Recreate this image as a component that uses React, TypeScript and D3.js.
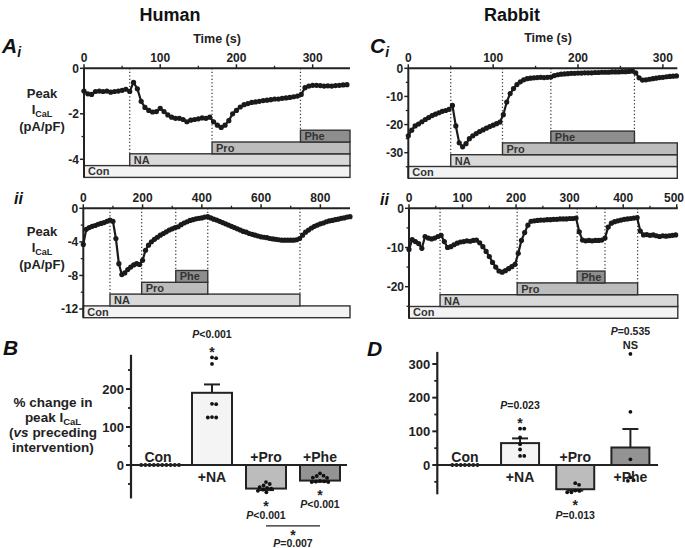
import React from 'react';
import * as d3 from 'd3';

const FONT = '"Liberation Sans", Arial, Helvetica, sans-serif';
const INK = '#222';

// ---- Traces: peak ICaL (pA/pF) sampled at fixed intervals (s) ----
const humanI_step = 5;
const humanI_duration = 349;
const humanI_values = [
  -1.0, -1.12, -1.15, -1.02, -1.0, -1.02, -1.0, -1.05, -1.02, -1.0, -0.97, -0.92, -1.02,
  -0.62, -0.9, -1.45, -1.72, -1.85, -1.92, -1.9, -1.76, -1.9, -2.05, -2.15, -2.2, -2.2,
  -2.25, -2.35, -2.28, -2.25, -2.22, -2.18, -2.2, -2.15, -2.35, -2.5, -2.6, -2.5, -2.3,
  -2.0, -1.85, -1.7, -1.6, -1.55, -1.5, -1.48, -1.45, -1.42, -1.4, -1.38, -1.35, -1.35,
  -1.32, -1.3, -1.28, -1.25, -1.22, -1.15, -0.85, -0.78, -0.75, -0.75, -0.76, -0.78,
  -0.77, -0.78, -0.76, -0.75, -0.73, -0.72,
];

const humanII_step = 10;
const humanII_duration = 900;
const humanII_values = [
  -4.3, -2.5, -2.3, -2.15, -2.05, -1.9, -1.8, -1.7, -1.55, -1.4, -1.55, -3.6, -6.6, -7.9,
  -7.7, -7.3, -7.0, -6.75, -6.6, -6.7, -6.2, -5.0, -4.4, -4.0, -3.7, -3.45, -3.2, -3.0,
  -2.8, -2.6, -2.45, -2.3, -2.2, -1.95, -1.75, -1.6, -1.45, -1.35, -1.25, -1.2, -1.15,
  -1.05, -1.0, -1.15, -1.3, -1.4, -1.55, -1.7, -1.85, -2.0, -2.15, -2.3, -2.45, -2.6,
  -2.75, -2.85, -3.0, -3.1, -3.2, -3.3, -3.4, -3.45, -3.5, -3.6, -3.65, -3.7, -3.75,
  -3.8, -3.8, -3.8, -3.8, -3.8, -3.75, -3.6, -3.2, -2.85, -2.6, -2.35, -2.15, -2.0,
  -1.85, -1.75, -1.6, -1.5, -1.45, -1.35, -1.3, -1.2, -1.15, -1.05, -1.0,
];

const rabbitI_step = 4;
const rabbitI_duration = 317;
const rabbitI_values = [
  -24.0, -22.0, -20.5, -19.8, -19.0, -18.2, -17.5, -16.8, -16.3, -15.8, -15.3, -15.0,
  -14.6, -13.2, -20.5, -26.5, -27.9, -26.8, -25.0, -24.0, -23.2, -22.5, -21.9, -21.3,
  -20.7, -20.2, -19.7, -19.1, -16.5, -12.0, -9.0, -7.2, -5.8, -4.8, -4.1, -3.7, -3.5,
  -3.4, -3.3, -3.2, -3.3, -3.2, -3.1, -2.6, -2.3, -2.1, -2.0, -1.9, -1.8, -1.8, -1.7,
  -1.7, -1.6, -1.6, -1.6, -1.5, -1.5, -1.4, -1.4, -1.4, -1.3, -1.3, -1.3, -1.2, -1.2,
  -1.1, -1.0, -1.6, -3.4, -4.2, -4.1, -3.9, -3.7, -3.5, -3.3, -3.2, -3.0, -2.9, -2.8, -2.7,
];

const rabbitII_step = 6;
const rabbitII_duration = 502;
const rabbitII_values = [
  -10.5, -8.0, -8.5, -9.0, -10.2, -7.2, -7.6, -7.8, -7.6, -7.2, -6.9, -8.5, -10.0, -9.8,
  -9.3, -8.9, -8.6, -8.5, -8.3, -8.4, -8.2, -8.1, -8.8, -9.8, -11.0, -12.3, -13.8, -15.0,
  -16.0, -16.3, -15.9, -15.4, -14.9, -14.3, -11.5, -8.2, -6.2, -4.3, -3.3, -3.2, -3.1,
  -3.0, -3.0, -2.9, -2.9, -2.8, -2.8, -2.7, -2.7, -2.7, -2.6, -2.6, -2.5, -6.0, -8.1,
  -8.3, -8.2, -8.3, -8.2, -8.2, -8.1, -7.6, -4.8, -3.8, -3.4, -3.2, -3.0, -2.8, -2.7,
  -2.6, -2.5, -2.4, -5.8, -6.8, -6.7, -6.9, -6.8, -7.0, -7.2, -7.0, -7.1, -7.0, -6.9, -6.8,
];

// drug application periods [start, end] in s, same order as `drugs`
const drugs = ['Con', 'NA', 'Pro', 'Phe'];
const humanI_periods = [[0, 349], [60, 349], [168, 349], [284, 349]];
const humanII_periods = [[0, 900], [90, 731], [197, 420], [312, 420]];
const rabbitI_periods = [[0, 317], [50, 317], [111, 317], [168, 266.5]];
const rabbitII_periods = [[0, 502], [58, 502], [202, 427], [314, 366]];

const humanI_xTicks = [0, 100, 200, 300];
const humanI_xMinor = [50, 150, 250];
const humanI_yTicks = [0, -2, -4];
const humanI_yMinor = [-1, -3];
const humanII_xTicks = [0, 200, 400, 600, 800];
const humanII_xMinor = [100, 300, 500, 700];
const humanII_yTicks = [0, -4, -8, -12];
const humanII_yMinor = [-2, -6, -10];
const rabbitI_xTicks = [0, 100, 200, 300];
const rabbitI_xMinor = [50, 150, 250];
const rabbitI_yTicks = [0, -10, -20, -30];
const rabbitI_yMinor = [-5, -15, -25, -35];
const rabbitII_xTicks = [0, 100, 200, 300, 400, 500];
const rabbitII_xMinor = [50, 150, 250, 350, 450];
const rabbitII_yTicks = [0, -10, -20];
const rabbitII_yMinor = [-5, -15, -25];

// ---- Summary: % change in peak ICaL vs preceding intervention ----
const groups = ['Con', '+NA', '+Pro', '+Phe'];
const humanMean = [0, 190, -62, -41];
const humanSem = [0, 22, 4, 3];
const humanPoints = [
  [0, 0, 0, 0, 0, 0, 0, 0, 0, 0],
  [283, 281, 266, 161, 160, 126, 125, 125],
  [-45, -50, -54, -58, -60, -62, -65, -68, -72],
  [-22, -28, -29, -33, -34, -42, -44, -45, -45, -43],
];
const humanNotes = [[], ['P<0.001', '*'], ['*', 'P<0.001'], ['*', 'P<0.001']];
const humanComparison = { from: '+Pro', to: '+Phe', labels: ['*', 'P=0.007'] };
const humanYTicks = [0, 100, 200];
const humanYMinor = [-50, 50, 150, 250];

const rabbitMean = [0, 65, -72, 52];
const rabbitSem = [0, 14, 4, 55];
const rabbitPoints = [
  [0, 0, 0, 0, 0, 0, 0],
  [108, 108, 82, 62, 46, 27, 27],
  [-59, -54, -77, -81, -81, -76],
  [330, 158, 17, -37, -45, -47],
];
const rabbitNotes = [[], ['P=0.023', '*'], ['*', 'P=0.013'], ['P=0.535', 'NS']];
const rabbitYTicks = [0, 100, 200, 300];
const rabbitYMinor = [-50, 50, 150, 250];

// ---- styling ----
const drugFill = { Con: '#f3f3f3', NA: '#d9d9d9', Pro: '#bcbcbc', Phe: '#8e8e8e' };
const groupFill = { Con: '#ffffff', '+NA': '#f4f4f4', '+Pro': '#bcbcbc', '+Phe': '#939393' };
const ROW_H = 11.8;
const PAGE_W = 685;

type TraceLayout = {
  xRange: [number, number];
  yDomain: [number, number];
  yRange: [number, number];
  bottom: number;
};

function TracePanel(props: {
  layout: TraceLayout;
  step: number;
  duration: number;
  values: number[];
  periods: number[][];
  xTicks: number[];
  xMinor: number[];
  yTicks: number[];
  yMinor: number[];
}) {
  const { layout, step, duration, values, periods } = props;
  const x = d3.scaleLinear().domain([0, duration]).range(layout.xRange);
  const y = d3.scaleLinear().domain(layout.yDomain).range(layout.yRange);
  const [x0, x1] = layout.xRange;
  const yAx = y(0);
  const yBot = layout.bottom;
  const rowTop = (i: number) => yBot - (i + 1) * ROW_H;

  const pts: [number, number][] = values.map((v, i) => [x(i * step), y(v)]);
  const path = d3.line()(pts) || '';

  // dotted event markers at every start / end of an application
  const events = new Map<number, number>();
  periods.forEach(([s, e], i) => {
    [s, e].forEach((t) => {
      if (t > 0 && t < duration) {
        const top = rowTop(i);
        if (!events.has(t) || (events.get(t) as number) > top) events.set(t, top);
      }
    });
  });

  return (
    <g>
      {periods.map(([s, e], i) => (
        <g key={drugs[i]}>
          <rect
            x={x(s)}
            y={rowTop(i)}
            width={x(e) - x(s)}
            height={ROW_H}
            fill={drugFill[drugs[i]]}
            stroke="#333"
            strokeWidth={1.4}
          />
          <text
            x={x(s) + 4}
            y={rowTop(i) + ROW_H - 2}
            fontSize={11}
            fontWeight="bold"
            fill="#333"
          >
            {drugs[i]}
          </text>
        </g>
      ))}
      {[...events.entries()].map(([t, top]) => (
        <line
          key={t}
          x1={x(t)}
          x2={x(t)}
          y1={yAx}
          y2={top}
          stroke="#333"
          strokeWidth={1.2}
          strokeDasharray="1.3 2.2"
        />
      ))}
      {/* axes */}
      <line x1={x0} x2={x1} y1={yAx} y2={yAx} stroke={INK} strokeWidth={2} />
      <line x1={x0} x2={x0} y1={yAx} y2={yBot} stroke={INK} strokeWidth={2} />
      {props.xTicks.map((t) => {
        const px = x(t);
        const nearEdge = px + 11 > PAGE_W;
        return (
          <g key={'xt' + t}>
            <line x1={px} x2={px} y1={yAx} y2={yAx - 4} stroke={INK} strokeWidth={1.5} />
            <text
              x={nearEdge ? PAGE_W - 1 : px}
              y={yAx - 6}
              textAnchor={nearEdge ? 'end' : 'middle'}
              fontSize={12}
              fontWeight="bold"
              fill={INK}
            >
              {String(t)}
            </text>
          </g>
        );
      })}
      {props.xMinor.map((t) => (
        <line key={'xm' + t} x1={x(t)} x2={x(t)} y1={yAx} y2={yAx - 2.5} stroke={INK} strokeWidth={1.3} />
      ))}
      {props.yTicks.map((t) => (
        <g key={'yt' + t}>
          <line x1={x0} x2={x0 - 4} y1={y(t)} y2={y(t)} stroke={INK} strokeWidth={1.5} />
          <text x={x0 - 5} y={y(t) + 4.3} textAnchor="end" fontSize={12} fontWeight="bold" fill={INK}>
            {String(t)}
          </text>
        </g>
      ))}
      {props.yMinor.map((t) =>
        y(t) < yBot ? (
          <line key={'ym' + t} x1={x0} x2={x0 - 2.5} y1={y(t)} y2={y(t)} stroke={INK} strokeWidth={1.3} />
        ) : null
      )}
      {/* trace */}
      <path d={path} fill="none" stroke="#1a1a1a" strokeWidth={2.2} />
      {pts.map(([px, py], i) => (
        <circle key={i} cx={px} cy={py} r={2.6} fill="#1a1a1a" />
      ))}
    </g>
  );
}

function swarm(vals: number[], y: (v: number) => number, D: number) {
  const order = vals.map((v) => ({ v, py: y(v) })).sort((a, b) => a.py - b.py);
  const placed: { v: number; py: number; dx: number }[] = [];
  for (const p of order) {
    const cands = [0];
    for (const q of placed) {
      const dy = Math.abs(q.py - p.py);
      if (dy < D) {
        const dx = Math.sqrt(D * D - dy * dy);
        cands.push(q.dx + dx, q.dx - dx);
      }
    }
    cands.sort((a, b) => Math.abs(a) - Math.abs(b));
    const ok = cands.find((c) => placed.every((q) => Math.hypot(q.dx - c, q.py - p.py) >= D - 1e-6));
    placed.push({ ...p, dx: ok ?? 0 });
  }
  return placed;
}

function NoteText({ label, cx, cy }: { label: string; cx: number; cy: number }) {
  if (label === '*') {
    return (
      <text x={cx} y={cy + 8.2} textAnchor="middle" fontSize={14} fontWeight="bold" fill={INK}>
        *
      </text>
    );
  }
  if (label.startsWith('P')) {
    return (
      <text x={cx} y={cy + 3.8} textAnchor="middle" fontSize={10.5} fontWeight="bold" fill={INK}>
        <tspan fontStyle="italic">P</tspan>
        {label.slice(1)}
      </text>
    );
  }
  return (
    <text x={cx} y={cy + 4} textAnchor="middle" fontSize={11} fontWeight="bold" fill={INK}>
      {label}
    </text>
  );
}

type BarLayout = {
  axisX: number;
  xEnd: number;
  yDomain: [number, number];
  yRange: [number, number];
  top: number;
  bottom: number;
  barW: number;
};

function BarPanel(props: {
  layout: BarLayout;
  means: number[];
  sems: number[];
  points: number[][];
  notes: string[][];
  yTicks: number[];
  yMinor: number[];
  comparison?: { from: string; to: string; labels: string[] };
}) {
  const { layout: L, means, sems, points, notes } = props;
  const y = d3.scaleLinear().domain(L.yDomain).range(L.yRange);
  const cx = d3.scalePoint<string>().domain(groups).range([L.axisX, L.xEnd]).padding(0.5);
  const y0 = y(0);
  const noteBottoms: Record<string, number> = {};

  return (
    <g>
      {groups.map((g, i) => {
        const c = cx(g) as number;
        const m = means[i];
        const ym = y(m);
        const dots = swarm(points[i], y, 4.2);
        const errEnd = m >= 0 ? y(m + sems[i]) : y(m - sems[i]);
        const labelAbove = m <= 0;
        // annotation anchor
        const lines = notes[i];
        const els: React.ReactNode[] = [];
        if (lines.length) {
          if (m > 0) {
            const ref = Math.min(errEnd, ...dots.map((d) => d.py));
            lines
              .slice()
              .reverse()
              .forEach((l, k) => els.push(<NoteText key={k} label={l} cx={c} cy={ref - 9 - k * 14} />));
          } else {
            const ref = Math.max(...dots.map((d) => d.py));
            lines.forEach((l, k) => els.push(<NoteText key={k} label={l} cx={c} cy={ref + 10 + k * 12.5} />));
            noteBottoms[g] = ref + 10 + (lines.length - 1) * 12.5;
          }
        }
        return (
          <g key={g}>
            {m !== 0 && (
              <rect
                x={c - L.barW / 2}
                y={Math.min(ym, y0)}
                width={L.barW}
                height={Math.abs(y0 - ym)}
                fill={groupFill[g]}
                stroke={INK}
                strokeWidth={2}
              />
            )}
            {sems[i] > 0 && (
              <g stroke={INK} strokeWidth={2}>
                <line x1={c} x2={c} y1={ym} y2={errEnd} />
                <line x1={c - 8} x2={c + 8} y1={errEnd} y2={errEnd} />
              </g>
            )}
            {dots.map((d, k) => (
              <circle key={k} cx={c + d.dx} cy={d.py} r={1.9} fill="#111" />
            ))}
            <text
              x={c}
              y={labelAbove ? y0 - 3.5 : y0 + 17}
              textAnchor="middle"
              fontSize={14}
              fontWeight="bold"
              fill={INK}
            >
              {g}
            </text>
            {els}
          </g>
        );
      })}
      {props.comparison && (() => {
        const cmp = props.comparison;
        const a = cx(cmp.from) as number;
        const b = cx(cmp.to) as number;
        const ly = Math.max(noteBottoms[cmp.from] ?? y0, noteBottoms[cmp.to] ?? y0) + 11;
        return (
          <g>
            <line x1={a} x2={b} y1={ly} y2={ly} stroke={INK} strokeWidth={1.3} />
            <NoteText label={cmp.labels[0]} cx={(a + b) / 2} cy={ly + 6} />
            <NoteText label={cmp.labels[1]} cx={(a + b) / 2} cy={ly + 17.5} />
          </g>
        );
      })()}
      {/* axes */}
      <line x1={L.axisX} x2={L.xEnd} y1={y0} y2={y0} stroke={INK} strokeWidth={2.2} />
      <line x1={L.axisX} x2={L.axisX} y1={y(L.top)} y2={y(L.bottom)} stroke={INK} strokeWidth={2.2} />
      {props.yTicks.map((t) => (
        <g key={'t' + t}>
          <line x1={L.axisX} x2={L.axisX - 5} y1={y(t)} y2={y(t)} stroke={INK} strokeWidth={2} />
          <text x={L.axisX - 7} y={y(t) + 4.6} textAnchor="end" fontSize={13} fontWeight="bold" fill={INK}>
            {String(t)}
          </text>
        </g>
      ))}
      {props.yMinor.map((t) => (
        <line key={'m' + t} x1={L.axisX} x2={L.axisX - 3} y1={y(t)} y2={y(t)} stroke={INK} strokeWidth={1.8} />
      ))}
    </g>
  );
}

function TraceYLabel({ cx, y }: { cx: number; y: number }) {
  return (
    <g fontSize={13} fontWeight="bold" fill={INK} textAnchor="middle">
      <text x={cx} y={y}>Peak</text>
      <text x={cx} y={y + 16}>
        I<tspan fontSize={9} dy={3}>CaL</tspan>
      </text>
      <text x={cx} y={y + 33}>(pA/pF)</text>
    </g>
  );
}

function PanelLetter({ x, y, letter, sub }: { x: number; y: number; letter: string; sub?: string }) {
  return (
    <text x={x} y={y} fontSize={21} fontWeight="bold" fontStyle="italic" fill="#111">
      {letter}
      {sub && (
        <tspan fontSize={14} dy={4}>
          {sub}
        </tspan>
      )}
    </text>
  );
}

export default function App() {
  const layouts: Record<string, TraceLayout> = {
    humanI: { xRange: [84, 350], yDomain: [0, -4], yRange: [68.3, 159.3], bottom: 177.4 },
    humanII: { xRange: [83.3, 350], yDomain: [0, -12], yRange: [208.3, 309], bottom: 317.7 },
    rabbitI: { xRange: [408.3, 677.3], yDomain: [0, -30], yRange: [68.3, 152.7], bottom: 178.3 },
    rabbitII: { xRange: [409, 677.8], yDomain: [0, -20], yRange: [208.3, 286.7], bottom: 318.3 },
  };
  const humanBar: BarLayout = {
    axisX: 131, xEnd: 347, yDomain: [0, 200], yRange: [465, 389], top: 290, bottom: -88, barW: 40,
  };
  const rabbitBar: BarLayout = {
    axisX: 437.3, xEnd: 658, yDomain: [0, 300], yRange: [465, 364], top: 336, bottom: -87, barW: 38,
  };

  return (
    <svg
      width={685}
      height={548}
      style={{ position: 'absolute', left: 0, top: 0, background: '#fff' }}
      fontFamily={FONT}
    >
      <rect width={685} height={548} fill="#fff" />
      <text x={170} y={20.5} textAnchor="middle" fontSize={18} fontWeight="bold" fill="#111">Human</text>
      <text x={512} y={20.5} textAnchor="middle" fontSize={18} fontWeight="bold" fill="#111">Rabbit</text>
      <text x={217} y={43} textAnchor="middle" fontSize={12.5} fontWeight="bold" fill={INK}>Time (s)</text>
      <text x={548} y={42} textAnchor="middle" fontSize={12.5} fontWeight="bold" fill={INK}>Time (s)</text>

      <PanelLetter x={2} y={53} letter="A" sub="i" />
      <PanelLetter x={370} y={53} letter="C" sub="i" />
      <text x={14} y={204} fontSize={16} fontWeight="bold" fontStyle="italic" fill="#111">ii</text>
      <text x={380} y={205} fontSize={16} fontWeight="bold" fontStyle="italic" fill="#111">ii</text>
      <PanelLetter x={3} y={355} letter="B" />
      <PanelLetter x={367} y={356} letter="D" />

      <TraceYLabel cx={42} y={97.5} />
      <TraceYLabel cx={42} y={236} />

      <TracePanel
        layout={layouts.humanI}
        step={humanI_step}
        duration={humanI_duration}
        values={humanI_values}
        periods={humanI_periods}
        xTicks={humanI_xTicks}
        xMinor={humanI_xMinor}
        yTicks={humanI_yTicks}
        yMinor={humanI_yMinor}
      />
      <TracePanel
        layout={layouts.humanII}
        step={humanII_step}
        duration={humanII_duration}
        values={humanII_values}
        periods={humanII_periods}
        xTicks={humanII_xTicks}
        xMinor={humanII_xMinor}
        yTicks={humanII_yTicks}
        yMinor={humanII_yMinor}
      />
      <TracePanel
        layout={layouts.rabbitI}
        step={rabbitI_step}
        duration={rabbitI_duration}
        values={rabbitI_values}
        periods={rabbitI_periods}
        xTicks={rabbitI_xTicks}
        xMinor={rabbitI_xMinor}
        yTicks={rabbitI_yTicks}
        yMinor={rabbitI_yMinor}
      />
      <TracePanel
        layout={layouts.rabbitII}
        step={rabbitII_step}
        duration={rabbitII_duration}
        values={rabbitII_values}
        periods={rabbitII_periods}
        xTicks={rabbitII_xTicks}
        xMinor={rabbitII_xMinor}
        yTicks={rabbitII_yTicks}
        yMinor={rabbitII_yMinor}
      />

      <g fontSize={13.5} fontWeight="bold" fill={INK} textAnchor="middle">
        <text x={53} y={407}>% change in</text>
        <text x={53} y={422}>
          peak I<tspan fontSize={9.5} dy={3}>CaL</tspan>
        </text>
        <text x={53} y={437}>
          (<tspan fontStyle="italic">vs</tspan> preceding
        </text>
        <text x={53} y={452}>intervention)</text>
      </g>

      <BarPanel
        layout={humanBar}
        means={humanMean}
        sems={humanSem}
        points={humanPoints}
        notes={humanNotes}
        yTicks={humanYTicks}
        yMinor={humanYMinor}
        comparison={humanComparison}
      />
      <BarPanel
        layout={rabbitBar}
        means={rabbitMean}
        sems={rabbitSem}
        points={rabbitPoints}
        notes={rabbitNotes}
        yTicks={rabbitYTicks}
        yMinor={rabbitYMinor}
      />
    </svg>
  );
}
